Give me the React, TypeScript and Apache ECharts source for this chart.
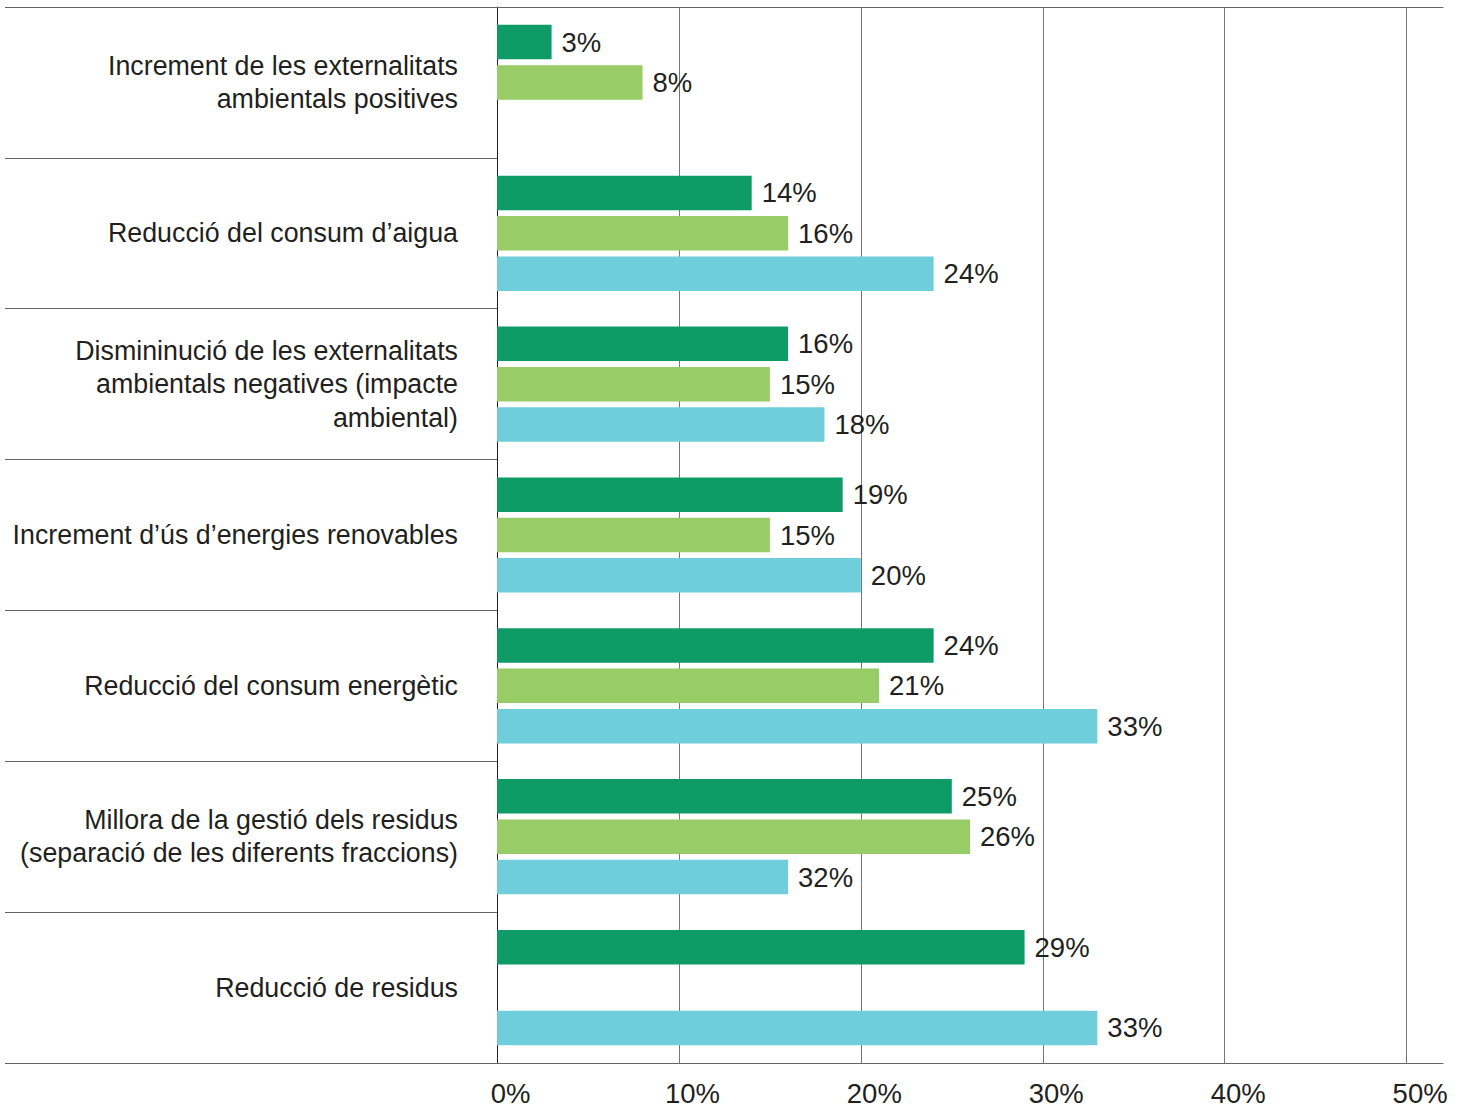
import React, { useEffect, useRef } from "react";
import * as echarts from "echarts";

const categories: string[] = [
  "Increment de les externalitats\nambientals positives",
  "Reducció del consum d’aigua",
  "Dismininució de les externalitats\nambientals negatives (impacte\nambiental)",
  "Increment d’ús d’energies renovables",
  "Reducció del consum energètic",
  "Millora de la gestió dels residus\n(separació de les diferents fraccions)",
  "Reducció de residus",
];

// Bar lengths as drawn in the reference (percent)
const darkGreenValues: (number | null)[] = [3, 14, 16, 19, 24, 25, 29];
const lightGreenValues: (number | null)[] = [8, 16, 15, 15, 21, 26, null];
const cyanValues: (number | null)[] = [null, 24, 18, 20, 33, 16, 33];

// Value labels as printed in the reference
const darkGreenLabels: string[] = ["3%", "14%", "16%", "19%", "24%", "25%", "29%"];
const lightGreenLabels: string[] = ["8%", "16%", "15%", "15%", "21%", "26%", ""];
const cyanLabels: string[] = ["", "24%", "18%", "20%", "33%", "32%", "33%"];

const tickMax = 50;
const axisMax = 52;
const tickInterval = 10;

const FONT = "'Liberation Sans', Arial, Helvetica, sans-serif";
const TEXT = "#231f20";

export default function App() {
  const ref = useRef<HTMLDivElement>(null);

  useEffect(() => {
    if (!ref.current) return;
    const chart = echarts.init(ref.current, undefined, { renderer: "svg" });

    const mkSeries = (name: string, values: (number | null)[], labels: string[], color: string) => ({
      name,
      type: "bar",
      xAxisIndex: 0,
      yAxisIndex: 0,
      data: values.map((v) => (v === null ? "-" : v)),
      barWidth: 34.5,
      barGap: "17%",
      itemStyle: { color },
      label: {
        show: true,
        position: "right",
        distance: 10,
        fontFamily: FONT,
        fontSize: 27.5,
        color: TEXT,
        formatter: (p: any) => labels[p.dataIndex],
      },
    });

    chart.setOption({
      animation: false,
      backgroundColor: "#ffffff",
      textStyle: { fontFamily: FONT },
      grid: { left: 497, right: 28, top: 7, bottom: 45, containLabel: false },
      xAxis: [
        {
          type: "value",
          position: "bottom",
          min: 0,
          max: axisMax,
          interval: tickInterval,
          axisLine: { show: true, lineStyle: { color: "#666666", width: 1.2 } },
          axisTick: { show: false },
          splitLine: {
            show: true,
            showMinLine: false,
            showMaxLine: false,
            lineStyle: { color: "#777777", width: 1 },
          },
          axisLabel: {
            show: true,
            showMaxLabel: false,
            margin: 16,
            fontFamily: FONT,
            fontSize: 27.5,
            color: TEXT,
            align: "center",
            padding: [0, 0, 0, 27],
            formatter: (v: number) => (v > tickMax ? "" : `${v}%`),
          },
        },
        {
          type: "value",
          position: "top",
          min: 0,
          max: axisMax,
          interval: tickInterval,
          axisLine: { show: true, lineStyle: { color: "#666666", width: 1.2 } },
          axisTick: { show: false },
          splitLine: { show: false },
          axisLabel: { show: false },
        },
      ],
      yAxis: {
        type: "category",
        inverse: true,
        data: categories,
        boundaryGap: true,
        axisLine: { show: true, lineStyle: { color: TEXT, width: 1 } },
        axisTick: {
          show: true,
          inside: false,
          alignWithLabel: false,
          length: 492,
          lineStyle: { color: "#666666", width: 1.2 },
        },
        axisLabel: {
          margin: 39,
          fontFamily: FONT,
          fontSize: 26.8,
          lineHeight: 33.5,
          color: TEXT,
          align: "right",
        },
        splitLine: { show: false },
      },
      series: [
        mkSeries("A", darkGreenValues, darkGreenLabels, "#0f9b65"),
        mkSeries("B", lightGreenValues, lightGreenLabels, "#97cc66"),
        mkSeries("C", cyanValues, cyanLabels, "#70cedc"),
      ],
    });

    return () => chart.dispose();
  }, []);

  return (
    <div
      ref={ref}
      style={{ position: "absolute", left: 0, top: 0, width: 1471, height: 1108 }}
    />
  );
}
